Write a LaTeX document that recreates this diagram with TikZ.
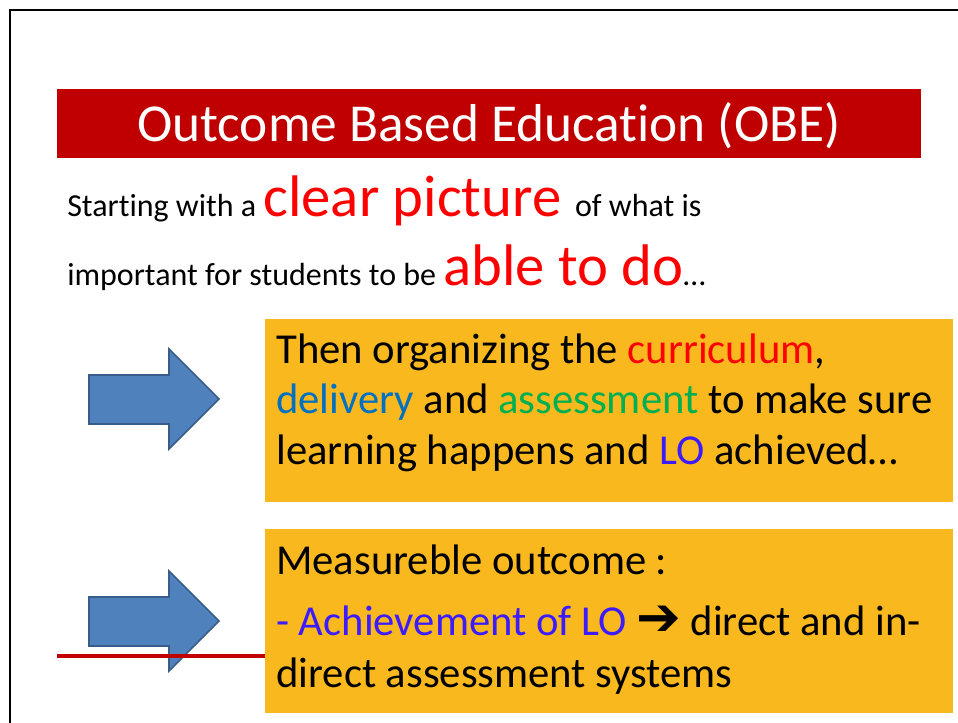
\documentclass[tikz,border=0pt]{standalone}
\usepackage{fontspec}
\setmainfont{Carlito}[RawFeature={-liga}]
\newfontfamily\symfont{DejaVu Sans}[BoldFont={DejaVu Sans Bold}]
\usepackage{tikz}

\definecolor{obered}{HTML}{C00000}
\definecolor{picred}{HTML}{FF0000}
\definecolor{boxorange}{HTML}{F8B81E}
\definecolor{arrowblue}{HTML}{4F81BD}
\definecolor{arrowedge}{HTML}{385D8A}
\definecolor{delblue}{HTML}{0070C0}
\definecolor{assgreen}{HTML}{00B050}
\definecolor{lopurple}{RGB}{60,28,255}

\begin{document}
\begin{tikzpicture}[x=0.75pt,y=0.75pt,yscale=-1,xscale=1,
  blockarrow/.style={draw=arrowedge,fill=arrowblue,line width=1.2},
  linetext/.style={anchor=base west,inner sep=0pt}]
\useasboundingbox (0,0) rectangle (958,723);

%Straight Lines [id:frame] 
\draw [line width=1.5]    (10,723) -- (10,10) -- (958,10) ;

%Shape: Rectangle [id:titlebar] 
\fill [obered]  (57,89) -- (921,89) -- (921,158) -- (57,158) -- cycle ;
% Text Node
\node (title) at (489,126) [text=white,font=\fontsize{40}{48}\selectfont] {Outcome Based Education (OBE)};

% Text Node
\node (introA) [linetext] at (67,217) {\fontsize{24}{29}\selectfont Starting with a {\color{picred}\fontsize{44}{53}\selectfont clear picture}\hspace{5pt} of what is};
% Text Node
\node (introB) [linetext] at (67,286) {\fontsize{24}{29}\selectfont important for students to be {\color{picred}\fontsize{44}{53}\selectfont able to do}\ldots};

%Shape: Right Arrow [id:arrowA] 
\draw [blockarrow]  (89,375) -- (169,375) -- (169,349) -- (219,399) -- (169,449) -- (169,424) -- (89,424) -- cycle ;
%Shape: Right Arrow [id:arrowB] 
\draw [blockarrow]  (89,597) -- (169,597) -- (169,571) -- (219,621) -- (169,671) -- (169,646) -- (89,646) -- cycle ;

%Straight Lines [id:redline] 
\draw [obered,line width=3]    (57,656) -- (265,656) ;

%Shape: Rectangle [id:boxA] 
\fill [boxorange]  (265,319) -- (953,319) -- (953,502) -- (265,502) -- cycle ;
%Shape: Rectangle [id:boxB] 
\fill [boxorange]  (265,529) -- (953,529) -- (953,713) -- (265,713) -- cycle ;

% Text Node
\node (planA) [linetext] at (276,364) {\fontsize{32}{38}\selectfont Then organizing the {\color{picred}curriculum},};
% Text Node
\node (planB) [linetext] at (276,414) {\fontsize{32}{38}\selectfont {\color{delblue}delivery} and {\color{assgreen}assessment} to make sure};
% Text Node
\node (planC) [linetext] at (276,465) {\fontsize{32}{38}\selectfont learning happens and {\color{lopurple}LO} achieved\ldots};

% Text Node
\node (measA) [linetext] at (276,575) {\fontsize{32}{38}\selectfont Measureble outcome :};
% Text Node
\node (measB) [linetext] at (276,636) {\fontsize{32}{38}\selectfont {\color{lopurple}- Achievement of LO} {\symfont\bfseries\fontsize{40}{44}\selectfont ➔} direct and in-};
% Text Node
\node (measC) [linetext] at (276,688) {\fontsize{32}{38}\selectfont direct assessment systems};

\end{tikzpicture}
\end{document}
